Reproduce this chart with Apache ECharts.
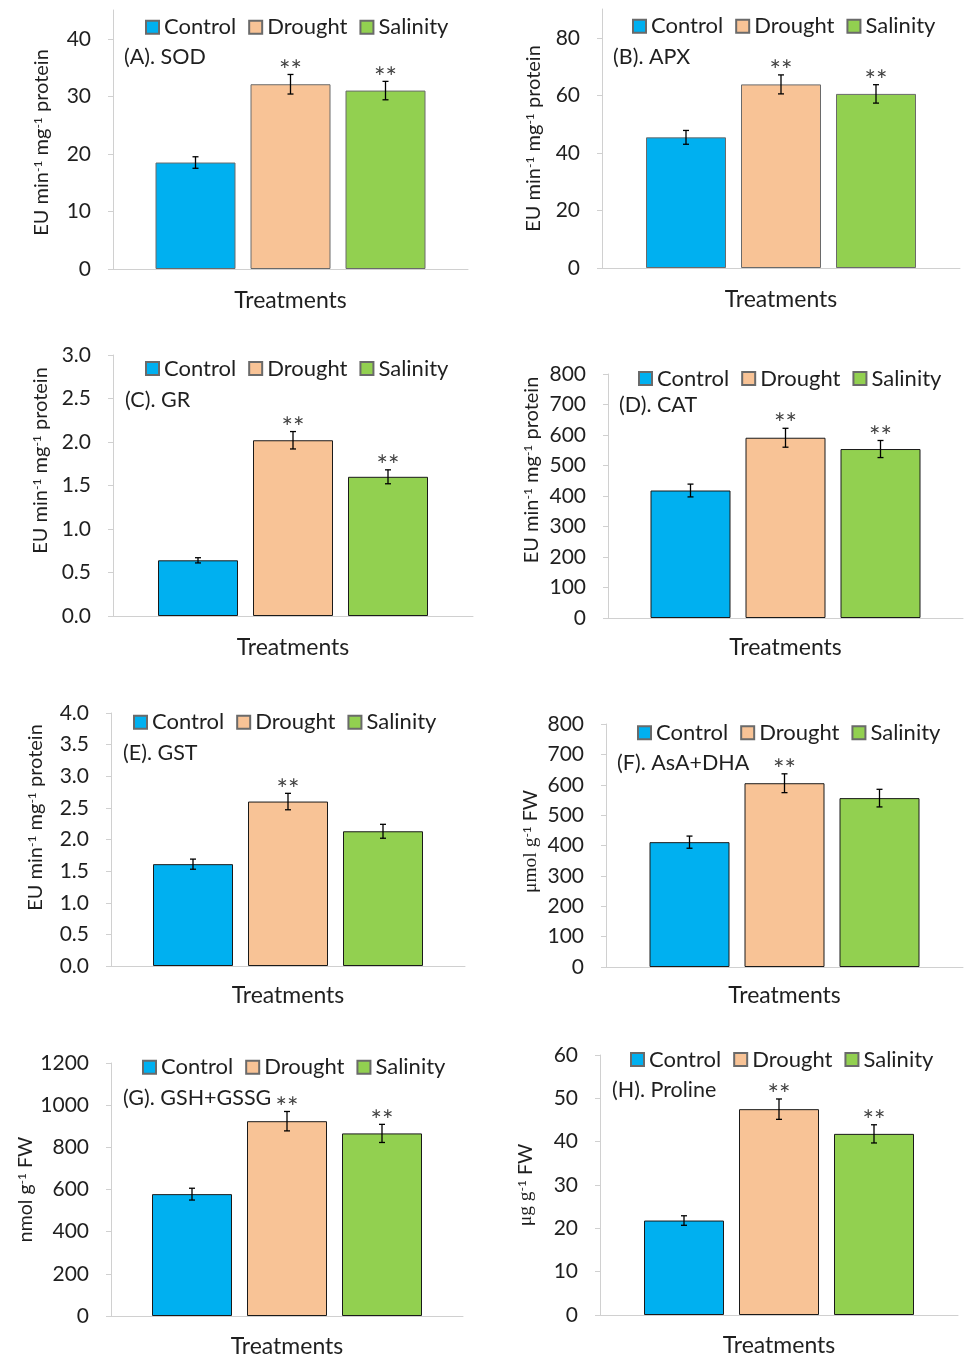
<!DOCTYPE html>
<html><head><meta charset="utf-8">
<script src="https://cdn.jsdelivr.net/npm/echarts@6/dist/echarts.min.js"></script>
<style>html,body{margin:0;padding:0;background:#fff}#c{width:966px;height:1359px}</style>
</head><body><div id="c"></div>
<script>
// ---------- data ----------
const treatments = ['Control', 'Drought', 'Salinity'];
const xCategory = [''];
const xAxisTitle = 'Treatments';

const sodMean = [18.5, 32.1, 31.0];
const sodSE   = [1.0, 1.7, 1.6];
const sodSig  = ['', '**', '**'];
const sodTicks = [0, 10, 20, 30, 40];

const apxMean = [45.4, 63.8, 60.5];
const apxSE   = [2.4, 3.3, 3.2];
const apxSig  = ['', '**', '**'];
const apxTicks = [0, 20, 40, 60, 80];

const grMean = [0.64, 2.02, 1.60];
const grSE   = [0.03, 0.10, 0.08];
const grSig  = ['', '**', '**'];
const grTicks = [0, 0.5, 1.0, 1.5, 2.0, 2.5, 3.0];

const catMean = [418, 591, 554];
const catSE   = [21, 31, 28];
const catSig  = ['', '**', '**'];
const catTicks = [0, 100, 200, 300, 400, 500, 600, 700, 800];

const gstMean = [1.61, 2.60, 2.13];
const gstSE   = [0.08, 0.13, 0.11];
const gstSig  = ['', '**', ''];
const gstTicks = [0, 0.5, 1.0, 1.5, 2.0, 2.5, 3.0, 3.5, 4.0];

const asaMean = [411, 605, 556];
const asaSE   = [20, 31, 29];
const asaSig  = ['', '**', ''];
const asaTicks = [0, 100, 200, 300, 400, 500, 600, 700, 800];

const gshMean = [578, 924, 866];
const gshSE   = [28, 46, 43];
const gshSig  = ['', '**', '**'];
const gshTicks = [0, 200, 400, 600, 800, 1000, 1200];

const proMean = [21.8, 47.5, 41.8];
const proSE   = [1.1, 2.35, 2.1];
const proSig  = ['', '**', '**'];
const proTicks = [0, 10, 20, 30, 40, 50, 60];

const panelLabels = ['(A). SOD', '(B). APX', '(C). GR', '(D). CAT', '(E). GST', '(F). AsA+DHA', '(G). GSH+GSSG', '(H). Proline'];
const enzymeUnit = '{n|EU min}{s|-1}{n| mg}{s|-1}{n| protein}';
const asaUnit = '{m|μmol g}{s|-1}{n| FW}';
const gshUnit = '{n|nmol g}{s|-1}{n| FW}';
const proUnit = '{m|μg g}{s|-1}{n| FW}';

// ---------- panel assembly ----------
const panels = [
  {mean: sodMean, se: sodSE, sig: sodSig, ticks: sodTicks, axisMax: 45, step: 10, dec: 0, unit: enzymeUnit},
  {mean: apxMean, se: apxSE, sig: apxSig, ticks: apxTicks, axisMax: 90, step: 20, dec: 0, unit: enzymeUnit},
  {mean: grMean, se: grSE, sig: grSig, ticks: grTicks, axisMax: 3, step: 0.5, dec: 1, unit: enzymeUnit},
  {mean: catMean, se: catSE, sig: catSig, ticks: catTicks, axisMax: 800, step: 100, dec: 0, unit: enzymeUnit},
  {mean: gstMean, se: gstSE, sig: gstSig, ticks: gstTicks, axisMax: 4, step: 0.5, dec: 1, unit: enzymeUnit},
  {mean: asaMean, se: asaSE, sig: asaSig, ticks: asaTicks, axisMax: 800, step: 100, dec: 0, unit: asaUnit},
  {mean: gshMean, se: gshSE, sig: gshSig, ticks: gshTicks, axisMax: 1200, step: 200, dec: 0, unit: gshUnit},
  {mean: proMean, se: proSE, sig: proSig, ticks: proTicks, axisMax: 60, step: 10, dec: 0, unit: proUnit}
];

// ---------- layout (pixels) ----------
const layouts = [
  {L:113, T:10,   R:468, Z:269,  lgX:145, lgY:27.7,  lbX:124, lbY:57,   nGap:61, nShift:-3, tY:301, ns:20},
  {L:602, T:9,    R:960, Z:268,  lgX:632, lgY:26.7,  lbX:613, lbY:57,   nGap:58, nShift:0,  tY:300, ns:20},
  {L:113, T:355,  R:473, Z:616,  lgX:145, lgY:369,   lbX:125, lbY:400,  nGap:62, nShift:25, tY:648, ns:20},
  {L:608, T:374,  R:963, Z:618,  lgX:638, lgY:379,   lbX:619, lbY:405,  nGap:66, nShift:26, tY:648, ns:20},
  {L:111, T:713,  R:465, Z:966,  lgX:133, lgY:722.7, lbX:123, lbY:753,  nGap:65, nShift:22, tY:996, ns:20},
  {L:606, T:724,  R:963, Z:967,  lgX:637, lgY:733.3, lbX:617, lbY:763,  nGap:65, nShift:4,  tY:996, ns:19.5},
  {L:111, T:1063, R:463, Z:1317, lgX:142, lgY:1067.7,lbX:123, lbY:1098, nGap:75, nShift:0,  tY:1348, ns:19.5},
  {L:600, T:1055, R:958, Z:1315, lgX:630, lgY:1060,  lbX:612, lbY:1090, nGap:64, nShift:0,  tY:1346, ns:19.5}
];

const FONT = 'Lato, "Open Sans", sans-serif';
const TXT = '#1f1f1f';
const AXIS_C = '#d0d0d0';
const COLORS = ['#00B0F0', '#F8C396', '#92D050'];
const BAR_W = 80;
const BAR_GAP = 0.1875;
const CAP = 3;

const grid = [], xAxis = [], yAxis = [], series = [], legend = [], title = [];

panels.forEach((p, k) => {
  const g = layouts[k];
  grid.push({left: g.L, top: g.T, width: g.R - g.L, height: g.Z - g.T, containLabel: false});
  xAxis.push({
    type: 'category', gridIndex: k, data: xCategory,
    axisLine: {show: true, lineStyle: {color: AXIS_C, width: 1}},
    axisTick: {show: false}, axisLabel: {show: false},
    name: xAxisTitle, nameLocation: 'middle', nameGap: (g.tY - g.Z) - 12,
    nameTextStyle: {fontSize: 23, fontFamily: FONT, color: TXT}
  });
  const padL = g.nShift > 0 ? 2 * g.nShift : 0;
  const padR = g.nShift < 0 ? -2 * g.nShift : 0;
  yAxis.push({
    type: 'value', gridIndex: k, min: 0, max: p.axisMax, interval: p.step,
    splitLine: {show: false},
    axisLine: {show: true, lineStyle: {color: AXIS_C, width: 1}},
    axisTick: {show: true, length: 5, lineStyle: {color: AXIS_C}, customValues: p.ticks},
    axisLabel: {
      customValues: p.ticks, margin: 22, fontSize: 21, fontFamily: FONT, color: TXT,
      formatter: v => Number(v).toFixed(p.dec)
    },
    name: p.unit, nameLocation: 'middle', nameGap: g.nGap,
    nameTextStyle: {
      color: TXT, padding: [0, padR, 0, padL],
      rich: {
        n: {fontSize: g.ns, fontFamily: FONT, color: TXT},
        m: {fontSize: g.ns, fontFamily: '"Liberation Serif", serif', color: TXT},
        s: {fontSize: 12, fontFamily: FONT, color: TXT, verticalAlign: 'top'}
      }
    }
  });
  const border = k < 2 ? '#6a6a6a' : '#1a1a1a';
  treatments.forEach((t, j) => {
    series.push({
      type: 'bar', name: t, xAxisIndex: k, yAxisIndex: k,
      data: [p.mean[j]], barWidth: BAR_W, barGap: (BAR_GAP * 100) + '%',
      itemStyle: {color: COLORS[j], borderColor: border, borderWidth: 1},
      emphasis: {disabled: true}
    });
  });
  series.push({
    type: 'custom', xAxisIndex: k, yAxisIndex: k, silent: true, z: 5,
    data: p.mean.map((m, i) => [0, m, p.se[i], i]),
    renderItem: (params, api) => {
      const i = api.value(3), m = api.value(1), e = api.value(2);
      const cx = api.coord([0, m])[0] + (i - 1) * BAR_W * (1 + BAR_GAP);
      const yt = api.coord([0, m + e])[1];
      const yb = api.coord([0, m - e])[1];
      const st = {stroke: '#000', lineWidth: 1.3};
      const children = [
        {type: 'line', shape: {x1: cx, y1: yt, x2: cx, y2: yb}, style: st},
        {type: 'line', shape: {x1: cx - CAP, y1: yt, x2: cx + CAP, y2: yt}, style: st},
        {type: 'line', shape: {x1: cx - CAP, y1: yb, x2: cx + CAP, y2: yb}, style: st}
      ];
      const s = p.sig[params.dataIndex];
      if (s) {
        children.push({type: 'text', style: {
          text: s, x: cx, y: yt - 17, align: 'center', verticalAlign: 'top',
          textAlign: 'center', textVerticalAlign: 'top',
          fill: '#404040', font: '27px ' + FONT
        }});
      }
      return {type: 'group', children};
    }
  });
  legend.push({
    data: treatments, left: g.lgX, top: g.lgY - 11.5, padding: 0, orient: 'horizontal',
    icon: 'rect', itemWidth: 13, itemHeight: 13, itemGap: 12, selectedMode: false,
    textStyle: {fontSize: 22, fontFamily: FONT, color: TXT}
  });
  title.push({
    text: panelLabels[k], left: g.lbX, top: g.lbY - 11, padding: 0,
    textStyle: {fontSize: 21.5, fontWeight: 'normal', fontFamily: FONT, color: TXT}
  });
});

const chart = echarts.init(document.getElementById('c'), null, {renderer: 'canvas'});
chart.setOption({
  backgroundColor: '#ffffff', animation: false,
  grid, xAxis, yAxis, series, legend, title
});
</script></body></html>
